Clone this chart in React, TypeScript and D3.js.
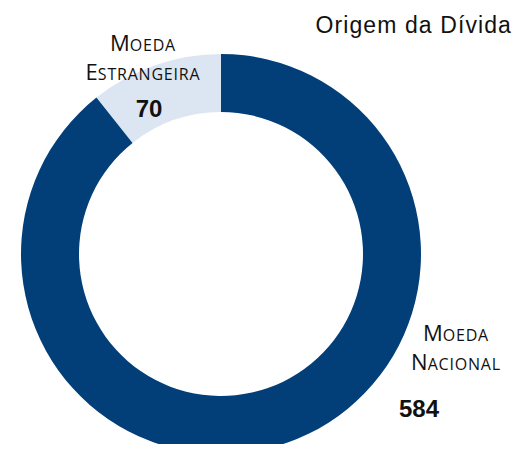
import React from 'react';
import * as d3 from 'd3';

const categories = ['Moeda Nacional', 'Moeda Estrangeira'];
const labelLines = [['Moeda', 'Nacional'], ['Moeda', 'Estrangeira']];
const values = [584, 70];
const colors = ['#023f78', '#dce6f2'];

const W = 525;
const H = 452;

// small caps drawn by hand: first letter full size, the rest smaller capitals
const SmallCaps = ({ x, y, text }: { x: number; y: number; text: string }) => (
  <text x={x} y={y} textAnchor="middle" fontFamily="Open Sans, sans-serif" fill="#111">
    <tspan fontSize={22}>{text[0].toUpperCase()}</tspan>
    <tspan fontSize={16} letterSpacing={0.8}>{text.slice(1).toUpperCase()}</tspan>
  </text>
);

const App = () => {
  const cx = 221;
  const cy = 254;
  const outer = 200;
  const inner = 142;

  const start = -(2 * Math.PI * values[1]) / d3.sum(values);
  const pie = d3
    .pie<number>()
    .sort(null)
    .startAngle(start)
    .endAngle(2 * Math.PI + start);

  const order = [1, 0];
  const arcs = pie(order.map((i) => values[i]));
  const arc = d3.arc<d3.PieArcDatum<number>>().innerRadius(inner).outerRadius(outer);

  const labelPos = [
    { x: 456, y: 341, vy: 417, vx: 419 },
    { x: 143, y: 51, vy: 117, vx: 149 },
  ];

  return (
    <div style={{ margin: -8 }}>
      <svg width={W} height={H} style={{ display: 'block' }}>
        <rect width={W} height={H} fill="#fff" />
        <g transform={`translate(${cx},${cy})`}>
          {arcs.map((a, k) => (
            <path key={categories[order[k]]} d={arc(a) || ''} fill={colors[order[k]]} />
          ))}
        </g>
        <text
          x={512}
          y={33}
          textAnchor="end"
          fontFamily="Liberation Sans, Arial, sans-serif"
          fontSize={23}
          letterSpacing={1.1}
          fill="#111"
        >
          Origem da Dívida
        </text>
        {categories.map((c, i) => (
          <g key={c}>
            {labelLines[i].map((t, j) => (
              <SmallCaps key={t} x={labelPos[i].x} y={labelPos[i].y + j * 29} text={t} />
            ))}
            <text
              x={labelPos[i].vx}
              y={labelPos[i].vy}
              textAnchor="middle"
              fontFamily="Liberation Sans, Arial, sans-serif"
              fontWeight="bold"
              fontSize={24}
              fill="#111"
            >
              {values[i]}
            </text>
          </g>
        ))}
      </svg>
    </div>
  );
};

export default App;
